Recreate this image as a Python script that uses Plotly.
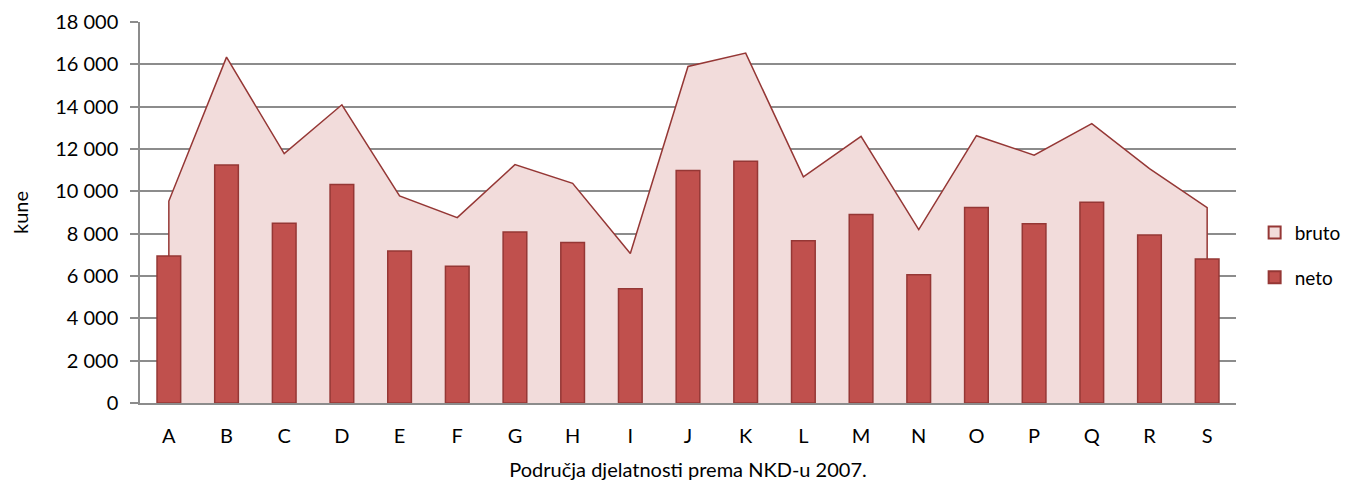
import plotly.graph_objects as go

categories = ["A", "B", "C", "D", "E", "F", "G", "H", "I", "J",
              "K", "L", "M", "N", "O", "P", "Q", "R", "S"]
bruto = [9540, 16340, 11780, 14090, 9780, 8760, 11260, 10380, 7060, 15900,
         16530, 10680, 12600, 8190, 12630, 11710, 13200, 11070, 9230]
neto = [6940, 11240, 8490, 10320, 7180, 6460, 8080, 7580, 5400, 10990,
        11420, 7670, 8910, 6060, 9240, 8470, 9480, 7940, 6800]
y_ticks = [0, 2000, 4000, 6000, 8000, 10000, 12000, 14000, 16000, 18000]
y_tick_labels = ["0", "2 000", "4 000", "6 000", "8 000", "10 000",
                 "12 000", "14 000", "16 000", "18 000"]

FONT = "Lato"
FILL = "#F2DCDB"
EDGE = "#953735"
BAR = "#C0504D"

# area polygon closed down to the baseline at the first and last category
area_x = [categories[0]] + categories + [categories[-1]]
area_y = [0] + bruto + [0]

fig = go.Figure()
fig.add_trace(go.Scatter(
    x=area_x, y=area_y, name="bruto", mode="lines",
    fill="toself", fillcolor=FILL,
    line=dict(color=EDGE, width=1.5),
    showlegend=False, xaxis="x", yaxis="y",
))
# legend swatch for the area series
fig.add_trace(go.Bar(
    x=[None], y=[None], name="bruto", legendgroup="bruto",
    marker=dict(color=FILL, line=dict(color=EDGE, width=1.5)),
    xaxis="x2", yaxis="y2",
))
fig.add_trace(go.Bar(
    x=categories, y=neto, name="neto", legendgroup="neto",
    marker=dict(color=BAR, line=dict(color=EDGE, width=1.5)),
    width=0.41, xaxis="x2", yaxis="y2",
))

axis_common = dict(
    type="category", categoryorder="array", categoryarray=categories,
    range=[-0.5, len(categories) - 0.5],
)
yrange = [0, 18000]

# page body has an 8px margin, so the figure is sized to fit the window
fig.update_layout(
    width=1343, height=473,
    margin=dict(l=132, r=115, t=14, b=78, autoexpand=False),
    paper_bgcolor="white", plot_bgcolor="white",
    font=dict(family=FONT, size=20, color="#000000"),
    showlegend=True,
    legend=dict(x=1.017, y=0.388, xanchor="left", yanchor="middle",
                font=dict(family=FONT, size=19), tracegroupgap=17,
                itemsizing="constant", itemwidth=30,
                bgcolor="rgba(0,0,0,0)"),
    barmode="overlay",
    xaxis=dict(
        **axis_common,
        showline=True, linecolor="#8C8C8C", linewidth=1.5,
        ticks="", ticklabelstandoff=14, automargin=False,
        tickfont=dict(family=FONT, size=20),
        title=dict(text="Područja djelatnosti prema NKD-u 2007.", standoff=17,
                   font=dict(family=FONT, size=20)),
        showgrid=False,
    ),
    yaxis=dict(
        range=yrange, tickvals=y_ticks, ticktext=y_tick_labels,
        showline=True, linecolor="#8C8C8C", linewidth=1.5,
        ticks="outside", ticklen=8, tickcolor="#8C8C8C", tickwidth=1.5,
        showgrid=True, gridcolor="#8C8C8C", gridwidth=1.5,
        tickfont=dict(family=FONT, size=20), automargin=False,
        ticklabelstandoff=8,
        title=dict(text="kune", standoff=22, font=dict(family=FONT, size=20)),
        zeroline=False,
    ),
    xaxis2=dict(**axis_common, overlaying="x", visible=False),
    yaxis2=dict(range=yrange, overlaying="y", visible=False),
)

fig.write_html("out.html")
